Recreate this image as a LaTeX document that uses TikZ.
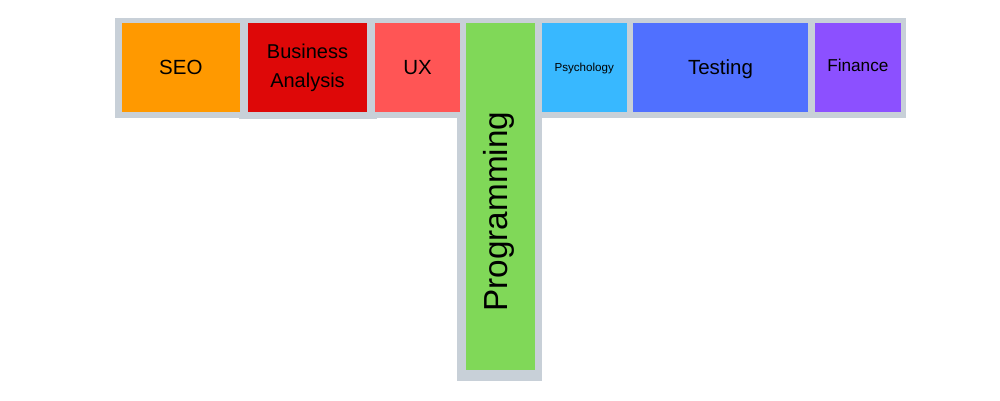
\documentclass[tikz,border=0pt]{standalone}
\usepackage{fontspec}
\setmainfont{Liberation Sans}
\definecolor{frame}{RGB}{200,208,216}
\definecolor{cseo}{RGB}{255,153,0}
\definecolor{cba}{RGB}{222,8,8}
\definecolor{cux}{RGB}{255,85,85}
\definecolor{cprog}{RGB}{128,216,88}
\definecolor{cpsy}{RGB}{56,184,255}
\definecolor{ctest}{RGB}{80,112,255}
\definecolor{cfin}{RGB}{140,80,255}
\tikzset{
  tile/.style={draw=none, inner sep=0pt, minimum height=88.4pt, align=center, text=black, font=\fontsize{20.5}{28}\selectfont},
}
\begin{document}
\begin{tikzpicture}[x=1pt,y=-1pt]
\useasboundingbox (0,0) rectangle (1000,400);
% grey frame
\fill[frame] (115,18) rectangle (906,118.3);
\fill[frame] (239,110) rectangle (376.7,119.3);
\fill[frame] (457.3,110) rectangle (542.3,380.7);
% tiles
\node[tile, fill=cseo, minimum width=118.3pt] (seo) at (180.85,67.5) {SEO};
\node[tile, fill=cba, minimum width=118.4pt, font=\fontsize{20}{29}\selectfont] (ba) at (307.5,67.5) {Business\\Analysis};
\node[tile, fill=cux, minimum width=85pt] (ux) at (417.5,67.5) {UX};
\node[tile, fill=cprog, rotate=90, minimum width=346.7pt, minimum height=69pt] (prog) at (500.5,196.65) {};
\node[inner sep=0pt, rotate=90, font=\fontsize{33.3}{40}\selectfont] (progtext) at (499,211.7) {Programming};
\node[tile, fill=cpsy, minimum width=85pt, text depth=0pt, font=\fontsize{11.6}{14}\selectfont] (psy) at (584.2,67.5) {Psychology};
\node[tile, fill=ctest, minimum width=175.6pt, text depth=0pt] (test) at (720.5,67.5) {Testing};
\node[tile, fill=cfin, minimum width=85.7pt] (fin) at (857.85,67.5) {};
\node[font=\fontsize{17.2}{20}\selectfont, inner sep=0pt] (fintext) at (857.85,65) {Finance};
\end{tikzpicture}
\end{document}
